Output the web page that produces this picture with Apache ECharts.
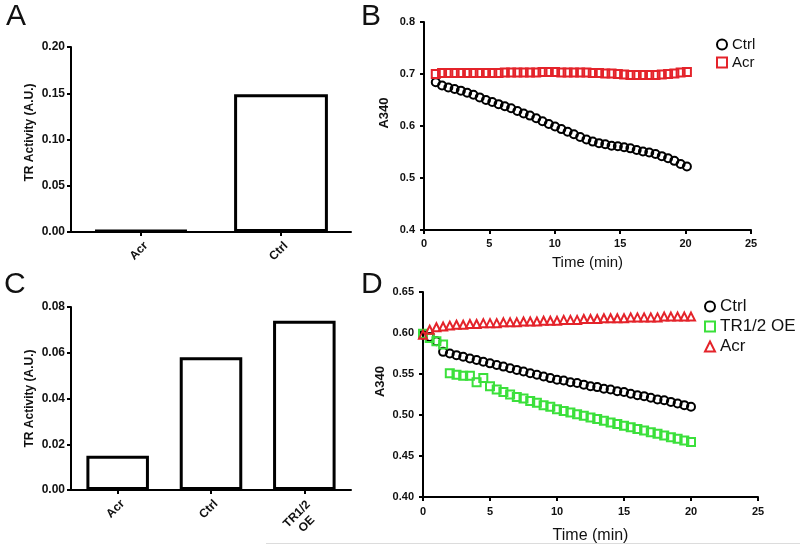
<!DOCTYPE html>
<html><head><meta charset="utf-8">
<script src="https://cdn.jsdelivr.net/npm/echarts@6/dist/echarts.min.js"></script>
<style>html,body{margin:0;padding:0;background:#fff}#c{width:800px;height:546px}</style>
</head><body><div id="c"></div>
<script>
// ---- Panel A (bar) ----
const catsA = ['Acr', 'Ctrl'];
const valsA = [0.002, 0.149];
const ticksA = [0, 0.05, 0.10, 0.15, 0.20];
// ---- Panel C (bar) ----
const catsC = ['Acr', 'Ctrl', 'TR1/2\nOE'];
const valsC = [0.015, 0.058, 0.074];
const ticksC = [0, 0.02, 0.04, 0.06, 0.08];
// ---- Panel B (kinetics) ----
const timeB = [0.9,1.38,1.86,2.34,2.82,3.3,3.78,4.26,4.74,5.22,5.7,6.18,6.66,7.14,7.62,8.1,8.58,9.06,9.54,10.02,10.5,10.98,11.46,11.94,12.42,12.9,13.38,13.86,14.34,14.82,15.3,15.78,16.26,16.74,17.22,17.7,18.18,18.66,19.14,19.62,20.1];
const ctrlB = [0.684,0.678,0.674,0.671,0.668,0.664,0.660,0.655,0.650,0.646,0.642,0.638,0.634,0.629,0.624,0.620,0.615,0.609,0.604,0.599,0.594,0.589,0.584,0.579,0.574,0.570,0.567,0.565,0.562,0.561,0.559,0.557,0.554,0.551,0.549,0.546,0.542,0.538,0.533,0.527,0.522];
const acrB = [0.700,0.702,0.702,0.702,0.702,0.702,0.702,0.702,0.702,0.702,0.702,0.703,0.703,0.703,0.703,0.703,0.703,0.704,0.704,0.704,0.703,0.703,0.703,0.703,0.703,0.702,0.702,0.701,0.701,0.700,0.699,0.698,0.698,0.698,0.698,0.698,0.699,0.700,0.701,0.703,0.704];
const ticksB = [0.4, 0.5, 0.6, 0.7, 0.8];
// ---- Panel D (kinetics) ----
const timeD = [0,0.5,1,1.5,2,2.5,3,3.5,4,4.5,5,5.5,6,6.5,7,7.5,8,8.5,9,9.5,10,10.5,11,11.5,12,12.5,13,13.5,14,14.5,15,15.5,16,16.5,17,17.5,18,18.5,19,19.5,20];
const ctrlD = [0.598,0.595,0.590,0.577,0.575,0.573,0.571,0.569,0.567,0.565,0.563,0.561,0.559,0.557,0.555,0.553,0.551,0.549,0.547,0.545,0.543,0.542,0.540,0.539,0.537,0.535,0.534,0.532,0.531,0.529,0.528,0.526,0.524,0.523,0.521,0.519,0.518,0.516,0.514,0.512,0.510];
const trD = [0.599,0.594,0.590,0.586,0.551,0.549,0.548,0.548,0.540,0.545,0.535,0.531,0.528,0.525,0.522,0.520,0.517,0.515,0.512,0.510,0.507,0.505,0.503,0.501,0.499,0.497,0.495,0.493,0.491,0.489,0.487,0.485,0.483,0.481,0.479,0.477,0.475,0.473,0.471,0.469,0.467];
const acrD = [0.598,0.604,0.607,0.608,0.609,0.610,0.610,0.611,0.611,0.612,0.612,0.612,0.613,0.613,0.613,0.614,0.614,0.614,0.615,0.615,0.615,0.616,0.616,0.616,0.617,0.617,0.617,0.618,0.618,0.618,0.618,0.619,0.619,0.619,0.619,0.619,0.620,0.620,0.620,0.620,0.620];
const ticksD = [0.40, 0.45, 0.50, 0.55, 0.60, 0.65];
const timeTicks = [0, 5, 10, 15, 20, 25];

const FONT = '"Liberation Sans", Arial, sans-serif';
const RED = '#e4232a', GREEN = '#3be03b';
const pairs = (xs, ys) => xs.map((x, i) => [x, ys[i]]);
const axLine = {show: true, lineStyle: {color: '#000', width: 2}};
const axTick = {show: true, length: 4, lineStyle: {color: '#000', width: 2}};
const lblBold = (size) => ({color: '#111', fontFamily: FONT, fontWeight: 'bold', fontSize: size});

function valueY(gi, tks, dec, name, gap, size, shift, nameSize, margin) {
  return {
    type: 'value', gridIndex: gi, min: tks[0], max: tks[tks.length - 1],
    interval: +(tks[1] - tks[0]).toFixed(4),
    axisLine: axLine, axisTick: axTick, splitLine: {show: false},
    axisLabel: Object.assign(lblBold(size), {margin: margin, formatter: v => v.toFixed(dec)}),
    name: name, nameLocation: 'middle', nameGap: gap,
    nameTextStyle: Object.assign(lblBold(nameSize), {padding: [0, 0, 0, shift]})
  };
}
function timeX(gi, gap, nameSize, margin) {
  return {
    type: 'value', gridIndex: gi, min: timeTicks[0], max: timeTicks[timeTicks.length - 1], interval: 5,
    axisLine: axLine, axisTick: axTick, splitLine: {show: false},
    axisLabel: Object.assign(lblBold(11), {margin: margin}),
    name: 'Time (min)', nameLocation: 'middle', nameGap: gap,
    nameTextStyle: {color: '#111', fontFamily: FONT, fontSize: nameSize}
  };
}
function catX(gi, cats) {
  return {
    type: 'category', gridIndex: gi,
    data: cats.map(c => c.indexOf('\n') >= 0
      ? {value: c, textStyle: Object.assign(lblBold(12), {align: 'center', verticalAlign: 'top', lineHeight: 14, padding: [0, 35, 0, 0]})}
      : c),
    axisLine: axLine, axisTick: Object.assign({}, axTick, {alignWithLabel: true}),
    axisLabel: Object.assign(lblBold(12), {rotate: 45, margin: 7, lineHeight: 14, verticalAlign: 'top'})
  };
}
const scat = (name, xi, data, symbol, color, size) => ({
  type: 'scatter', name: name, xAxisIndex: xi, yAxisIndex: xi, data: data,
  symbol: symbol, symbolSize: size,
  itemStyle: {color: 'rgba(0,0,0,0)', borderColor: color, borderWidth: 2, opacity: 1},
  emphasis: {disabled: true}, animation: false
});
const barS = (xi, vals) => ({
  type: 'bar', xAxisIndex: xi, yAxisIndex: xi, data: vals, barWidth: '67%',
  itemStyle: {color: '#fff', borderColor: '#000', borderWidth: 3}, animation: false
});
const panelLetter = (t, x, y) => ({type: 'text', left: x, top: y,
  style: {text: t, fontFamily: FONT, fontSize: 30, fill: '#111'}});

const chart = echarts.init(document.getElementById('c'), null, {renderer: 'canvas'});
chart.setOption({
  backgroundColor: '#fff',
  animation: false,
  grid: [
    {left: 71, top: 47, width: 280, height: 185},
    {left: 424, top: 22, width: 327, height: 208},
    {left: 71, top: 307, width: 280, height: 183},
    {left: 423, top: 292, width: 335, height: 205}
  ],
  xAxis: [catX(0, catsA), timeX(1, 25, 15, 8), catX(2, catsC), timeX(3, 31, 16, 9)],
  yAxis: [
    valueY(0, ticksA, 2, 'TR Activity (A.U.)', 35, 12, 14, 12, 6),
    valueY(1, ticksB, 1, 'A340', 33, 11, 26, 13, 9),
    valueY(2, ticksC, 2, 'TR Activity (A.U.)', 35, 12, 0, 12, 6),
    valueY(3, ticksD, 2, 'A340', 36, 11, 26, 13, 9)
  ],
  legend: [
    {orient: 'vertical', left: 711, top: 32, itemWidth: 10, itemHeight: 10, itemGap: 3,
     textStyle: {fontFamily: FONT, fontSize: 15, color: '#111', lineHeight: 15},
     data: [{name: 'Ctrl', icon: 'circle'}, {name: 'Acr', icon: 'rect'}], selectedMode: false},
    {orient: 'vertical', left: 699, top: 293, itemWidth: 10, itemHeight: 10, itemGap: 3,
     textStyle: {fontFamily: FONT, fontSize: 17, color: '#111', lineHeight: 16.5},
     data: [{name: 'Ctrl', icon: 'circle'}, {name: 'TR1/2 OE', icon: 'rect'}, {name: 'Acr', icon: 'triangle'}], selectedMode: false}
  ],
  series: [
    barS(0, valsA),
    scat('Ctrl', 1, pairs(timeB, ctrlB), 'circle', '#000', 8),
    scat('Acr', 1, pairs(timeB, acrB), 'rect', RED, 8),
    barS(2, valsC),
    scat('Ctrl', 3, pairs(timeD, ctrlD), 'circle', '#000', 8),
    scat('TR1/2 OE', 3, pairs(timeD, trD), 'rect', GREEN, 8),
    scat('Acr', 3, pairs(timeD, acrD), 'triangle', RED, 8)
  ],
  graphic: [
    panelLetter('A', 6, 2),
    panelLetter('B', 361, 2),
    panelLetter('C', 4, 270),
    panelLetter('D', 361, 270),
    {type: 'line', shape: {x1: 266, y1: 543.5, x2: 800, y2: 543.5}, style: {stroke: '#dcdcdc', lineWidth: 1}}
  ]
});
</script></body></html>
